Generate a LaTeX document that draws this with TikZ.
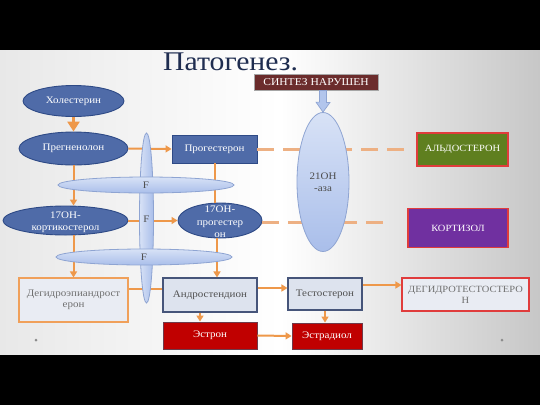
\documentclass[tikz,border=0pt]{standalone}
\usepackage{fontspec}
\setmainfont{Liberation Serif}[FakeStretch=1.1]
\usetikzlibrary{shapes.geometric,arrows.meta,calc}
\definecolor{bluefill}{HTML}{4F6BA8}
\definecolor{blueborder}{HTML}{2E4A86}
\definecolor{lightfill}{HTML}{DDE3EE}
\definecolor{lightborder}{HTML}{46557A}
\definecolor{palefill}{HTML}{E9ECF3}
\definecolor{dheaborder}{HTML}{F0A05A}
\definecolor{redborder}{HTML}{E03C3C}
\definecolor{darkred}{HTML}{C00000}
\definecolor{darkredborder}{HTML}{6E3A4A}
\definecolor{olive}{HTML}{5F7F1F}
\definecolor{purplebox}{HTML}{7030A0}
\definecolor{maroon}{HTML}{6B2C2C}
\definecolor{lineorange}{HTML}{EE984A}
\definecolor{dashorange}{HTML}{EDB083}
\definecolor{flight}{HTML}{D8E2F6}
\definecolor{fdark}{HTML}{A9BEEA}
\definecolor{fborder}{HTML}{8EA4D2}
\definecolor{titlecol}{HTML}{1F2D50}
\definecolor{graytext}{HTML}{505050}
\definecolor{paletext}{HTML}{707070}
\newcommand\nodefnt{\fontsize{10}{11.5}\selectfont}
\newcommand\capsfnt{\fontsize{9.5}{11}\selectfont}
\begin{document}
\begin{tikzpicture}[x=1pt,y=-1pt,
  conn/.style={draw=lineorange, line width=2pt},
  arr/.style={conn, -{Triangle[width=7pt,length=6pt]}},
  bigarr/.style={draw=lineorange, line width=2.5pt, -{Triangle[width=12pt,length=10pt]}},
  dashconn/.style={draw=dashorange, line width=3pt, dash pattern=on 17pt off 9pt},
  blueell/.style={ellipse, draw=blueborder, fill=bluefill, line width=0.9pt, text=white, inner sep=0pt, font=\nodefnt},
  bluebox/.style={rectangle, draw=blueborder, fill=bluefill, line width=0.9pt, text=white, inner sep=0pt, font=\nodefnt},
  lightbox/.style={rectangle, draw=lightborder, fill=lightfill, line width=1.1pt, text=graytext, inner sep=0pt, font=\nodefnt, align=center},
  palebox/.style={rectangle, fill=palefill, line width=1.1pt, inner sep=0pt, font=\nodefnt, align=center},
  redbox/.style={rectangle, draw=darkredborder, fill=darkred, line width=0.9pt, text=white, inner sep=0pt, font=\nodefnt},
  capbox/.style={rectangle, draw=redborder, line width=1.1pt, text=white, inner sep=0pt, font=\capsfnt},
  fell/.style={ellipse, draw=fborder, line width=0.8pt, inner sep=0pt, font=\nodefnt, text=graytext},
  barrow/.style={draw=fborder, fill=fdark!80!flight, line width=0.7pt}
]
\useasboundingbox (0,0) rectangle (540,405);
% background
\fill[black] (0,0) rectangle (540,405);
\shade[left color=black!9, right color=white] (0,50) rectangle (280,354);
\shade[left color=white, right color=black!22] (280,50) rectangle (540,354);
\fill[black!45] (36,340) circle (1.5);
\fill[black!45] (502,340) circle (1.5);
% title
\node[anchor=base west, inner sep=0pt, text=titlecol, font=\fontsize{27}{30}\selectfont] (title) at (163,70) {Патогенез.};
% nodes
\node[rectangle, draw=black!35, fill=maroon, line width=0.8pt, text=white, inner sep=0pt, minimum width=124pt, minimum height=16pt, font=\fontsize{10.5}{12}\selectfont] (synth) at (316,82) {СИНТЕЗ НАРУШЕН};
\node[blueell, minimum width=101pt, minimum height=31pt] (chol) at (73.5,101) {Холестерин};
\node[blueell, minimum width=109pt, minimum height=33pt] (preg) at (73.5,148.5) {Прегненолон};
\node[bluebox, minimum width=85pt, minimum height=28pt] (prog) at (214.5,149) {Прогестерон};
\node[blueell, minimum width=125pt, minimum height=29pt, label={[text=white, font=\nodefnt, align=center, yshift=-1.5pt]center:17ОН-\\кортикостерол}] (kort) at (65.5,220.5) {};
\node[blueell, minimum width=84pt, minimum height=35pt, label={[text=white, font=\fontsize{10}{12.5}\selectfont, align=center, yshift=-1.5pt]center:17ОН-\\прогестер\\он}] (ohprog) at (220,220.5) {};
\node[palebox, draw=dheaborder, text=paletext, minimum width=109pt, minimum height=44pt] (dhea) at (73.5,300) {Дегидроэпиандрост\\ерон};
\node[lightbox, minimum width=94pt, minimum height=34pt] (andro) at (210,295) {Андростендион};
\node[redbox, minimum width=94pt, minimum height=27pt] (estron) at (210,335.5) {Эстрон};
\node[lightbox, minimum width=74pt, minimum height=32pt] (testo) at (325,294) {Тестостерон};
\node[palebox, draw=redborder, text=paletext, minimum width=127pt, minimum height=33pt, font=\capsfnt] (dht) at (465.5,294.5) {ДЕГИДРОТЕСТОСТЕРО\\Н};
\node[redbox, minimum width=70pt, minimum height=26pt] (estradiol) at (327,336) {Эстрадиол};
\node[capbox, fill=olive, minimum width=91pt, minimum height=33pt] (aldo) at (462.5,149.5) {АЛЬДОСТЕРОН};
\node[capbox, fill=purplebox, minimum width=100pt, minimum height=39pt] (kortizol) at (458,228) {КОРТИЗОЛ};
% dashed connectors
\coordinate (aldoin) at ([xshift=-9pt]aldo.west);
\coordinate (kortin) at ([xshift=-20pt]kortizol.west);
\coordinate (ohe) at ([yshift=-2pt]ohprog.east);
\draw[dashconn] (prog.east) -- (aldoin |- prog.east);
\draw[dashconn] (ohe) -- (kortin |- ohe);
% 21OH-ase ellipse
\node[fell, top color=flight, bottom color=fdark, minimum width=52pt, minimum height=139pt, align=center, text=black!70] (ohase) at (323,182) {21ОН\\-аза};
\draw[barrow] ($(ohase.north |- synth.south)+(-3.5,0)$) -- ++(7,0) -- ++(0,12) -- ++(3.5,0) -- (ohase.north) -- ++(-7,-10) -- ++(3.5,0) -- cycle;
% orange connectors
\draw[bigarr] (chol.south) -- (preg.north);
\draw[arr] (preg.east) -- (prog.west);
\draw[arr] (preg.south) -- (preg.south |- kort.north);
\draw[arr] (kort.east) -- (ohprog.west);
\draw[conn] (prog.south) -- (prog.south |- ohprog.north);
\coordinate (ohs) at ([xshift=-3pt]ohprog.south);
\draw[arr] (ohs) -- (ohs |- andro.north);
\draw[arr] (dhea.north |- kort.south) -- (dhea.north);
\coordinate (aw) at ([yshift=6pt]andro.west);
\draw[conn] (aw -| dhea.east) -- (aw);
\coordinate (ae) at ([yshift=7pt]andro.east);
\draw[arr] (ae) -- (ae -| testo.west);
\coordinate (te) at ([yshift=9pt]testo.east);
\draw[arr] (te) -- (te -| dht.west);
\coordinate (as) at ([xshift=-10pt]andro.south);
\draw[arr] (as) -- (as |- estron.north);
\draw[arr] (testo.south) -- (testo.south |- estradiol.north);
\draw[arr] (estron.east) -- (estradiol.west);
% F ellipses
\node[fell, left color=flight, right color=fdark, minimum width=14pt, minimum height=170pt] (vf) at (146.5,218) {};
\node[anchor=center, inner sep=0pt, font=\nodefnt, text=graytext] (vflabel) at (146.5,219) {F};
\node[fell, top color=flight, bottom color=fdark, minimum width=176pt, minimum height=16pt] (hf1) at (146,185) {F};
\node[fell, top color=flight, bottom color=fdark, minimum width=176pt, minimum height=16pt] (hf2) at (144,257) {F};
\end{tikzpicture}
\end{document}
